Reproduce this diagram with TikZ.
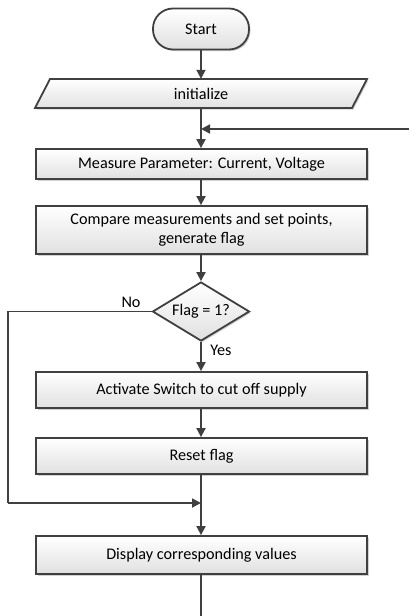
\documentclass[tikz,border=0pt]{standalone}
\usepackage{fontspec}
\setmainfont{Carlito}
\usetikzlibrary{shadows,arrows.meta,shapes.geometric}

\tikzset{
  txt/.style={font=\fontsize{16.2}{19.5}\selectfont},
  line/.style={draw=black!75, line width=1.8pt},
  arr/.style={line, -{Triangle[length=9pt,width=9pt]}},
  boxfill/.style={draw=black!75, line width=1.8pt, top color=white, bottom color=black!12,
    drop shadow={shadow xshift=1.5pt, shadow yshift=-1.5pt, fill=black!30, opacity=0.6}},
  procbox/.style={boxfill, txt, rectangle, minimum width=331pt, inner sep=0pt, align=center},
  term/.style={boxfill, txt, rectangle, rounded corners=20pt, minimum width=96pt, minimum height=41pt},
  decision/.style={boxfill, txt, diamond, inner sep=0pt, minimum width=97pt, minimum height=59pt,
    aspect=1.64},
  lbl/.style={txt, inner sep=0pt},
}

\begin{document}
\begin{tikzpicture}[x=1pt, y=-1pt]
  \useasboundingbox (0,0) rectangle (409,616);

  % start terminal
  \node[term] (start) at (201,29) {Start};

  % initialize (parallelogram drawn as a path, text node on top)
  \path[boxfill] (35,108) -- (50,79) -- (367,79) -- (352,108) -- cycle;
  \node[lbl, minimum width=317pt, minimum height=29pt] (init) at (201,93.5) {initialize};

  % process steps
  \node[procbox, minimum height=30pt] (meas) at (201.5,164) {Measure Parameter: Current, Voltage};
  \node[procbox, minimum height=48pt] (comp) at (201.5,230) {Compare measurements and set points,\\ generate flag};
  \node[decision] (dec) at (201,311.5) {Flag = 1?};
  \node[procbox, minimum height=36pt] (act) at (201.5,390) {Activate Switch to cut off supply};
  \node[procbox, minimum height=36pt] (reset) at (201.5,456) {Reset flag};
  \node[procbox, minimum height=38pt] (disp) at (201.5,555) {Display corresponding values};

  % junction points and free ends
  \coordinate (loopin) at (201,129);
  \coordinate (loopsrc) at (409,129);
  \coordinate (merge) at (201,503);
  \coordinate (noleft) at (8,311.5);
  \coordinate (nodown) at (8,503);
  \coordinate (outend) at (201,616);

  % connectors
  \draw[arr] (start.south) -- (start.south |- init.north);
  \draw[arr] (init.south) -- (init.south |- meas.north);
  \draw[arr] (loopsrc) -- (loopin);
  \draw[arr] (meas.south -| dec.north) -- (comp.north -| dec.north);
  \draw[arr] (comp.south -| dec.north) -- (dec.north);
  \draw[arr] (dec.south) -- (act.north -| dec.south);
  \draw[arr] (act.south -| dec.south) -- (reset.north -| dec.south);
  \draw[arr] (reset.south -| dec.south) -- (disp.north -| dec.south);
  \draw[line] (disp.south -| dec.south) -- (outend);
  \draw[line] (dec.west) -- (noleft) -- (nodown);
  \draw[arr] (nodown) -- (merge);

  % branch labels
  \node[lbl] (nolbl) at (131,302) {No};
  \node[lbl] (yeslbl) at (221,350) {Yes};
\end{tikzpicture}
\end{document}
